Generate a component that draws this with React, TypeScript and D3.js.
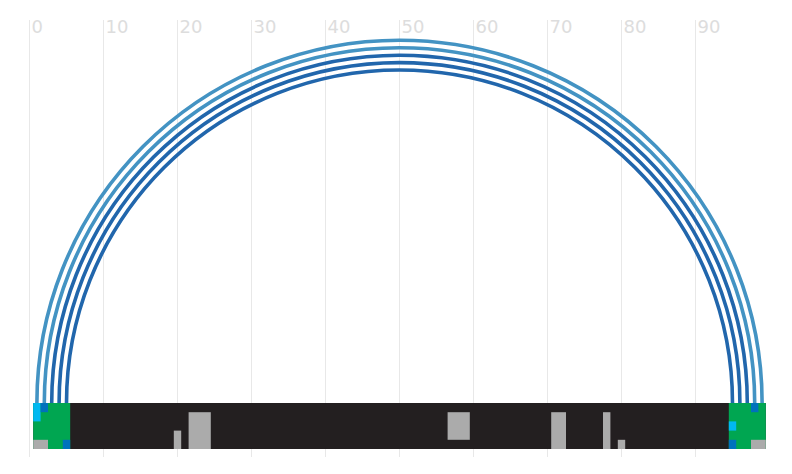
import React from "react";
import * as d3 from "d3";

const W = 792;
const H = 474;

const tickValues = [0, 10, 20, 30, 40, 50, 60, 70, 80, 90];

// arcs link cell pairs
const arcStarts = [1, 2, 3, 4, 5];
const arcEnds = [99, 98, 97, 96, 95];
const arcKinds = ["light", "light", "dark", "dark", "dark"];

// track: cells 1..99
const trackStart = 1;
const trackEnd = 99;
const rows = [0, 1, 2, 3, 4];

// blocks on the track (cells, rows inclusive)
const blockStart = [1, 95, 1, 20, 22, 57, 71, 78, 80, 98, 1, 95, 2, 5, 98, 95];
const blockEnd = [5, 99, 2, 20, 24, 59, 72, 78, 80, 99, 1, 95, 2, 5, 98, 95];
const blockRow0 = [0, 0, 4, 3, 1, 1, 1, 1, 4, 4, 0, 2, 0, 4, 0, 4];
const blockRow1 = [4, 4, 4, 4, 4, 3, 4, 4, 4, 4, 1, 2, 0, 4, 0, 4];
const blockKind = [
  "green", "green", "gray", "gray", "gray", "gray", "gray", "gray", "gray", "gray",
  "cyan", "cyan", "blue", "blue", "blue", "blue",
];

const colors: Record<string, string> = {
  green: "#00a651",
  gray: "#ababab",
  cyan: "#00b8f1",
  blue: "#0072bc",
  light: "#4393c3",
  dark: "#2166ac",
  track: "#231f20",
};

export default function App() {
  const x = d3.scaleLinear().domain([0, 100]).range([29.5, 769.5]);
  const y = d3.scaleBand<number>().domain(rows).range([403, 449]).padding(0);
  const baseY = 403;
  const unit = x(1) - x(0);

  const arcPath = (s: number, e: number) => {
    const cx = (x(s) + x(e)) / 2;
    const r = (x(e) - x(s)) / 2;
    const p = d3.path();
    p.arc(cx, baseY, r, Math.PI, 2 * Math.PI);
    return p.toString();
  };

  return (
    <svg
      width={W}
      height={H}
      style={{ position: "absolute", left: 0, top: 0, background: "#fff" }}
    >
      {tickValues.map((t) => (
        <g key={t}>
          <line x1={x(t)} x2={x(t)} y1={20} y2={457} stroke="#e8e8e8" strokeWidth={1} />
          <text
            x={x(t) + 2}
            y={33}
            fill="#dddddd"
            fontFamily="'DejaVu Sans', sans-serif"
            fontSize={18}
          >
            {t}
          </text>
        </g>
      ))}
      {arcStarts.map((s, i) => (
        <path
          key={i}
          d={arcPath(s, arcEnds[i])}
          fill="none"
          stroke={colors[arcKinds[i]]}
          strokeWidth={3.6}
        />
      ))}
      <rect
        x={x(trackStart - 0.5)}
        y={y(0)!}
        width={x(trackEnd + 0.5) - x(trackStart - 0.5)}
        height={y.bandwidth() * rows.length}
        fill={colors.track}
      />
      {blockStart.map((s, i) => (
        <rect
          key={i}
          x={x(s - 0.5)}
          y={y(blockRow0[i])!}
          width={(blockEnd[i] - s + 1) * unit}
          height={(blockRow1[i] - blockRow0[i] + 1) * y.bandwidth()}
          fill={colors[blockKind[i]]}
        />
      ))}
    </svg>
  );
}
